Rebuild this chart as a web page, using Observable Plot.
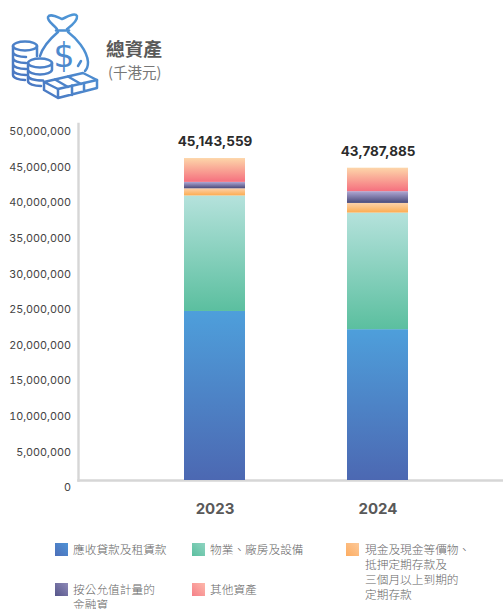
<!DOCTYPE html>
<html lang="zh-Hant">
<head>
<meta charset="utf-8">
<script src="https://cdn.jsdelivr.net/npm/d3@7"></script>
<script src="https://cdn.jsdelivr.net/npm/@observablehq/plot@0.6"></script>
<style>
html,body{margin:0;padding:0;background:#fff;overflow:hidden}
#root{position:relative;width:503px;height:609px;overflow:hidden;font-family:"Noto Sans CJK TC",sans-serif}
#head{position:absolute;left:0;top:0;width:503px;height:100px}
#head svg{position:absolute;left:0;top:0}
#t1{position:absolute;left:106px;top:35px;font-size:18.700px;font-weight:700;color:#595959;line-height:26px}
#t2{position:absolute;left:108px;top:62px;font-size:14.500px;color:#777;line-height:20px}
#chart{position:absolute;left:0;top:100px}
.lg{position:absolute;font-size:11.700px;font-weight:300;line-height:15px;color:#666;white-space:pre}
.sw{position:absolute;width:13px;height:13px}
</style>
</head>
<body>
<div id="root">
  <div id="head">
    <svg width="110" height="100" viewBox="0 0 110 100" fill="none" stroke="url(#ic)" stroke-width="2.500" stroke-linecap="round" stroke-linejoin="round">
      <defs><linearGradient id="ic" gradientUnits="userSpaceOnUse" x1="10" y1="100" x2="100" y2="10"><stop offset="0" stop-color="#4a70bd"/><stop offset="1" stop-color="#4f9fdc"/></linearGradient></defs>
      <path d="M57 29C53 24 47 21 48 17C50 13 57 17 62 19C67 17 75 12 77 16C78 21 71 26 67 29"/>
      <path d="M56 30.500H69"/>
      <path d="M58 32C51 38 43 46 40 56"/>
      <path d="M68 32C76 38 87 50 88 62C88 66 87 69 85 71"/>
      <path d="M78 66L81 61"/>
      <text x="64" y="67" font-size="33" text-anchor="middle" fill="url(#ic)" stroke="none" font-family="DejaVu Sans">$</text>
      <ellipse cx="25" cy="46" rx="12" ry="4.500" fill="#fff"/>
      <path d="M13 46V75C13 78 19 80 25 80M13 52C13 55 19 57 26 57M13 58C13 61 19 63 26 63M13 64C13 67 19 69 26 69M13 70C13 73 19 75 26 75M37 46V56"/>
      <ellipse cx="40" cy="63" rx="12" ry="4.500" fill="#fff"/>
      <path d="M28 63V81C28 84 34 86 41 86M28 69.500C28 72.500 34 74.500 40 74.500C46 74.500 52 72.500 52 69.500M28 75.500C28 78.500 34 80.500 43 80.500M52 63V70"/>
      <path d="M44 82L83 73L97 80L58 89Z" fill="#fff"/>
      <path d="M44 82V90L58 98L97 88V80M58 89V98M72 85.500V95M84 83V91M55 79.500L68 87M68 76.500L81 84"/>
    </svg>
    <div id="t1">總資產</div>
    <div id="t2">(千港元)</div>
  </div>
  <div id="chart"></div>
</div>
<script>
const years = ["2023", "2024"];
const totals = [45143559, 43787885];
const series = ["應收貸款及租賃款", "物業、廠房及設備", "現金及現金等價物", "按公允值計量的金融資", "其他資產"];
const receivables = [23700000, 21150000];
const property = [16200000, 16350000];
const cash = [1000000, 1350000];
const financial = [900000, 1650000];
const others = [3343559, 3287885];
const seriesValues = [receivables, property, cash, financial, others];
const gradTop = ["#4e9fdb", "#b5e2dc", "#fcd2ab", "#b0a8d4", "#fdd6a9"];
const gradBottom = ["#4c68b2", "#5bbf9f", "#fdac50", "#4a4a7a", "#f5707f"];
const swatchTop = ["#4f93d6", "#8fd4c1", "#fcc99a", "#8f8ab8", "#fdb8ab"];
const swatchBottom = ["#4c6eb8", "#5bbf9f", "#fdac60", "#55558a", "#f58088"];
const legendLabels = ["應收貸款及租賃款", "物業、廠房及設備", "現金及現金等價物、\n抵押定期存款及\n三個月以上到期的\n定期存款", "按公允值計量的\n金融資", "其他資產"];
const yTicks = [0, 5e6, 10e6, 15e6, 20e6, 25e6, 30e6, 35e6, 40e6, 45e6, 50e6];

const rows = series.flatMap((s, i) => years.map((y, j) => ({series: s, year: y, value: seriesValues[i][j]})));
const totalRows = years.map((y, j) => ({year: y, total: totals[j]}));
const axisColor = "#d6d6d6";
const numFont = "Inter, 'Liberation Sans', sans-serif";

const plot = Plot.plot({
  width: 503,
  height: 420,
  marginLeft: 78,
  marginRight: 0,
  marginTop: 23.4,
  marginBottom: 40,
  style: {background: "transparent", overflow: "visible"},
  x: {type: "band", domain: years, range: [133, 459], paddingInner: 0.626, paddingOuter: 0.313, label: null},
  y: {domain: [0, 50000000], label: null},
  color: {type: "ordinal", domain: series, range: series.map((_, i) => `url(#grad${i})`)},
  marks: [
    Plot.frame({anchor: "left", stroke: axisColor, strokeWidth: 2.4}),
    Plot.frame({anchor: "bottom", stroke: axisColor, strokeWidth: 2.4}),
    Plot.barY(rows, {x: "year", y: "value", fill: "series", order: series}),
    Plot.axisY({ticks: yTicks, tickFormat: d3.format(","), tickSize: 0, tickPadding: 7.5, dy: 7.5, fontSize: 10.8, fontFamily: numFont, fill: "#444", label: null}),
    Plot.axisX({tickSize: 0, tickPadding: 23, fontSize: 15, fontWeight: 700, fontFamily: numFont, fill: "#595959", label: null}),
    Plot.text(totalRows, {x: "year", y: "total", text: d => d3.format(",")(d.total), dy: -17, fontSize: 13.5, fontWeight: 700, fontFamily: numFont, fill: "#2b2b2b"})
  ]
});

const defs = d3.select(plot).append("defs");
series.forEach((_, i) => {
  const g = defs.append("linearGradient").attr("id", `grad${i}`).attr("x1", 0).attr("y1", 0).attr("x2", 0).attr("y2", 1);
  g.append("stop").attr("offset", 0).attr("stop-color", gradTop[i]);
  g.append("stop").attr("offset", 1).attr("stop-color", gradBottom[i]);
});
document.getElementById("chart").appendChild(plot);

const root = document.getElementById("root");
const swatchX = [55, 192, 346, 55, 192];
const swatchY = [543, 543, 543, 583, 583];
const textX = [73, 210, 365, 73, 210];
legendLabels.forEach((label, i) => {
  const sw = document.createElement("div");
  sw.className = "sw";
  sw.style.left = swatchX[i] + "px";
  sw.style.top = swatchY[i] + "px";
  sw.style.background = `linear-gradient(45deg, ${swatchBottom[i]}, ${swatchTop[i]})`;
  root.appendChild(sw);
  const t = document.createElement("div");
  t.className = "lg";
  t.style.left = textX[i] + "px";
  t.style.top = (swatchY[i] - 2) + "px";
  t.textContent = label;
  root.appendChild(t);
});
</script>
</body>
</html>
